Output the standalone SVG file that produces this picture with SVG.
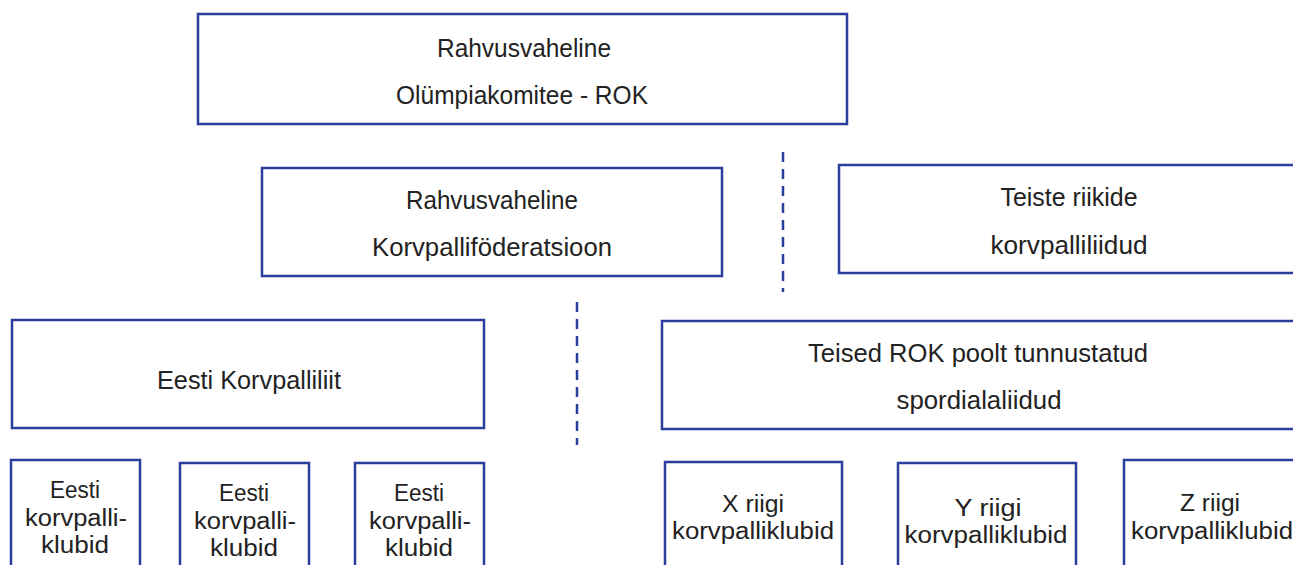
<svg xmlns="http://www.w3.org/2000/svg" width="1293" height="565" viewBox="0 0 1293 565">
<style>
.b{fill:#fff;stroke:#2a3f9d;stroke-width:2.5}
.t{font-family:"Liberation Sans",Arial,sans-serif;font-size:26px;fill:#222;text-anchor:middle}
.s{font-family:"Liberation Sans",Arial,sans-serif;font-size:23.5px;fill:#222;text-anchor:middle}
.d{stroke:#2a3f9d;stroke-width:2.5;stroke-dasharray:10,7;fill:none}
</style>
<rect width="1293" height="565" fill="#fff"/>
<g id="connectors">
<line class="d" x1="783" y1="152" x2="783" y2="292"/>
<line class="d" x1="577" y1="302" x2="577" y2="445"/>
</g>
<g id="rok"><rect class="b" x="198" y="14" width="649" height="110"/>
<text class="t" x="524" y="57" textLength="174" lengthAdjust="spacingAndGlyphs">Rahvusvaheline</text><text class="t" x="522" y="104" textLength="252" lengthAdjust="spacingAndGlyphs">Olümpiakomitee - ROK</text></g>
<g id="fiba"><rect class="b" x="262" y="168" width="460" height="108"/>
<text class="t" x="492" y="209" textLength="172" lengthAdjust="spacingAndGlyphs">Rahvusvaheline</text><text class="t" x="492" y="256" textLength="240" lengthAdjust="spacingAndGlyphs">Korvpalliföderatsioon</text></g>
<g id="teiste"><rect class="b" x="839" y="165" width="460" height="108"/>
<text class="t" x="1069" y="206" textLength="137" lengthAdjust="spacingAndGlyphs">Teiste riikide</text><text class="t" x="1069" y="254" textLength="157" lengthAdjust="spacingAndGlyphs">korvpalliliidud</text></g>
<g id="ekl"><rect class="b" x="12" y="320" width="472" height="108"/>
<text class="t" x="249" y="389" textLength="184" lengthAdjust="spacingAndGlyphs">Eesti Korvpalliliit</text></g>
<g id="teised"><rect class="b" x="662" y="321" width="640" height="108"/>
<text class="t" x="978" y="362" textLength="340" lengthAdjust="spacingAndGlyphs">Teised ROK poolt tunnustatud</text><text class="t" x="979" y="409" textLength="165" lengthAdjust="spacingAndGlyphs">spordialaliidud</text></g>
<g id="ek1"><rect class="b" x="11" y="460" width="129" height="120"/>
<text class="s" x="75" y="498" textLength="50" lengthAdjust="spacingAndGlyphs">Eesti</text><text class="s" x="76" y="526" textLength="102" lengthAdjust="spacingAndGlyphs">korvpalli-</text><text class="s" x="75" y="553" textLength="68" lengthAdjust="spacingAndGlyphs">klubid</text></g>
<g id="ek2"><rect class="b" x="180" y="463" width="129" height="120"/>
<text class="s" x="244" y="501" textLength="50" lengthAdjust="spacingAndGlyphs">Eesti</text><text class="s" x="245" y="529" textLength="102" lengthAdjust="spacingAndGlyphs">korvpalli-</text><text class="s" x="244" y="556" textLength="68" lengthAdjust="spacingAndGlyphs">klubid</text></g>
<g id="ek3"><rect class="b" x="355" y="463" width="129" height="120"/>
<text class="s" x="419" y="501" textLength="50" lengthAdjust="spacingAndGlyphs">Eesti</text><text class="s" x="420" y="529" textLength="102" lengthAdjust="spacingAndGlyphs">korvpalli-</text><text class="s" x="419" y="556" textLength="68" lengthAdjust="spacingAndGlyphs">klubid</text></g>
<g id="x"><rect class="b" x="665" y="462" width="177" height="120"/>
<text class="s" x="753" y="512" textLength="62" lengthAdjust="spacingAndGlyphs">X riigi</text><text class="s" x="753" y="539" textLength="162" lengthAdjust="spacingAndGlyphs">korvpalliklubid</text></g>
<g id="y"><rect class="b" x="898" y="463" width="178" height="120"/>
<text class="s" x="988" y="516" textLength="67" lengthAdjust="spacingAndGlyphs">Y riigi</text><text class="s" x="986" y="543" textLength="163" lengthAdjust="spacingAndGlyphs">korvpalliklubid</text></g>
<g id="z"><rect class="b" x="1124" y="460" width="180" height="120"/>
<text class="s" x="1210" y="511" textLength="60" lengthAdjust="spacingAndGlyphs">Z riigi</text><text class="s" x="1212" y="539" textLength="162" lengthAdjust="spacingAndGlyphs">korvpalliklubid</text></g>
</svg>
